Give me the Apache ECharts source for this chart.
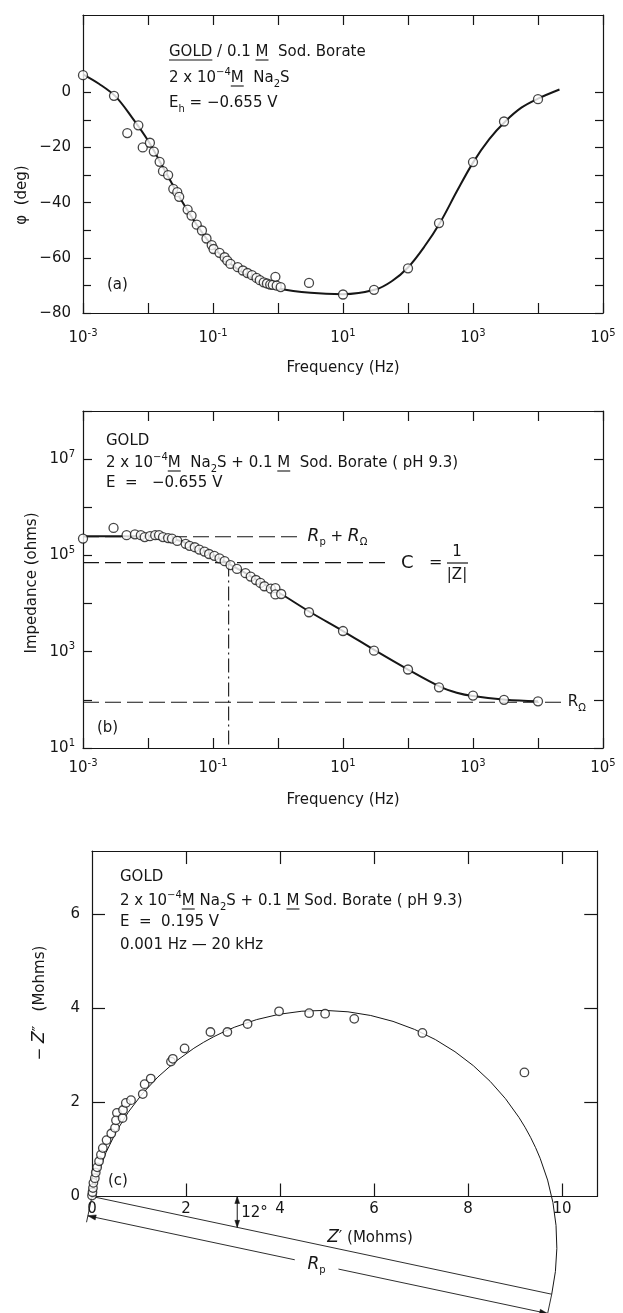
<!DOCTYPE html>
<html>
<head>
<meta charset="utf-8">
<script src="https://cdn.jsdelivr.net/npm/echarts@6/dist/echarts.min.js"></script>
<style>
  html, body { margin: 0; padding: 0; background: #ffffff; }
  #chart { width: 623px; height: 1313px; }
</style>
</head>
<body>
<div id="chart"></div>
<script>
// ---------- (a) phase angle vs frequency ----------
const phaseFreq = [0.001, 0.0030, 0.0048, 0.0071, 0.0083, 0.0107, 0.0123, 0.0151, 0.0170, 0.0204,
  0.0245, 0.0282, 0.0302, 0.0407, 0.0468, 0.0562, 0.0676, 0.0794, 0.0955, 0.102,
  0.126, 0.151, 0.166, 0.186, 0.240, 0.288, 0.339, 0.398, 0.468, 0.525,
  0.603, 0.676, 0.759, 0.832, 0.912, 0.955, 1.10, 3.0, 10, 30,
  100, 300, 1000, 3000, 10000];
const phaseDeg = [6.2, -1.3, -14.8, -12, -20, -18.3, -21.5, -25.2, -28.6, -30,
  -35, -36.2, -37.9, -42.5, -44.7, -48, -50.1, -53, -55.4, -56.8,
  -58.2, -59.8, -61, -62.2, -63.4, -64.6, -65.5, -66.3, -67.3, -68.1,
  -68.9, -69.3, -69.7, -69.8, -66.9, -70.1, -70.6, -69.1, -73.3, -71.6,
  -63.8, -47.4, -25.3, -10.6, -2.5];
const phaseFitFreq = [0.001, 0.00178, 0.00316, 0.00562, 0.01, 0.0178, 0.0316, 0.0562, 0.1, 0.178,
  0.316, 0.562, 1, 3.16, 10, 31.6, 56.2, 100, 178, 316,
  562, 1000, 1780, 3160, 5620, 10000, 21400];
const phaseFitDeg = [6.5, 3, -1.5, -9, -17.5, -28, -38.6, -48, -56, -61.8,
  -66, -69, -71, -72.7, -73.2, -71.5, -68.5, -63.5, -56, -47,
  -36, -25.5, -17, -10.5, -5.5, -2.3, 1];
const phaseTicks = [-80, -70, -60, -50, -40, -30, -20, -10, 0];
const phaseLabels = [-80, -60, -40, -20, 0];

// ---------- (b) impedance modulus vs frequency ----------
const impFreq = [0.001, 0.00295, 0.00468, 0.0063, 0.00776, 0.0089, 0.0107, 0.0129, 0.0148, 0.0170,
  0.0204, 0.0234, 0.0282, 0.038, 0.0437, 0.0525, 0.0617, 0.0741, 0.0871, 0.105,
  0.126, 0.151, 0.186, 0.234, 0.316, 0.38, 0.457, 0.537, 0.617, 0.776,
  0.912, 0.912, 1.12, 3, 10, 30, 100, 300, 1000, 3000, 10000];
const impOhms = [2.24e5, 3.72e5, 2.63e5, 2.75e5, 2.63e5, 2.40e5, 2.51e5, 2.63e5, 2.63e5, 2.40e5,
  2.29e5, 2.24e5, 2.0e5, 1.74e5, 1.58e5, 1.48e5, 1.32e5, 1.20e5, 1.07e5, 9.8e4,
  8.7e4, 7.6e4, 6.3e4, 5.25e4, 4.27e4, 3.63e4, 3.09e4, 2.69e4, 2.29e4, 2.04e4,
  2.09e4, 1.55e4, 1.58e4, 6600, 2690, 1050, 427, 182, 123, 100, 93];
const impFitFreq = [0.001, 0.00316, 0.01, 0.0178, 0.0316, 0.0562, 0.1, 0.178, 0.316, 0.562,
  1, 3.16, 10, 31.6, 100, 316, 562, 1000, 3160, 10000];
const impFitOhms = [2.51e5, 2.51e5, 2.51e5, 2.40e5, 2.0e5, 1.45e5, 1.02e5, 6.6e4, 4.27e4, 2.69e4,
  1.74e4, 6600, 2690, 1050, 427, 186, 141, 120, 100, 93];
// characteristic levels marked on the modulus plot
const rpPlusROmega = 2.45e5;   // low-frequency plateau
const capLevel = 7.1e4;        // |Z| used for C = 1/|Z|
const capFreq = 0.174;         // frequency where the curve meets that level
const rOmega = 89;             // high-frequency limit

// ---------- (c) complex-plane plot ----------
const zReal = [0.00, 0.01, 0.02, 0.03, 0.06, 0.08, 0.11, 0.15, 0.19, 0.23,
  0.31, 0.41, 0.49, 0.53, 0.51, 0.65, 0.66, 0.72, 0.83, 1.08,
  1.12, 1.25, 1.68, 1.72, 1.97, 2.52, 2.88, 3.31, 3.98, 4.62,
  4.96, 5.58, 7.03, 9.20];
const zImag = [0.02, 0.09, 0.18, 0.29, 0.39, 0.51, 0.62, 0.75, 0.89, 1.03,
  1.20, 1.34, 1.46, 1.78, 1.62, 1.67, 1.84, 1.99, 2.05, 2.18,
  2.39, 2.51, 2.87, 2.93, 3.15, 3.50, 3.50, 3.67, 3.94, 3.90,
  3.89, 3.78, 3.48, 2.64];
const rp = 10;            // Mohm, chord of the depressed semicircle
const depressionDeg = 12; // centre depression angle
const nyqTicks = [2, 4, 6, 8, 10];
const nyqXLabels = [0, 2, 4, 6, 8, 10];
const nyqYTicks = [2, 4, 6];
const nyqYLabels = [0, 2, 4, 6];

// ---------- styling ----------
const FONT = 'DejaVu Sans';
const INK = '#161616';
const zip = (a, b) => a.map((v, i) => [v, b[i]]);

const RICH = {
  t: { fontSize: 15, fontFamily: FONT, lineHeight: 22, color: INK, fill: INK },
  sup: { fontSize: 10, fontFamily: FONT, lineHeight: 12, verticalAlign: 'top', color: INK, fill: INK },
  sub: { fontSize: 10, fontFamily: FONT, lineHeight: 12, verticalAlign: 'bottom', color: INK, fill: INK },
  i: { fontSize: 17, fontFamily: FONT, fontStyle: 'italic', lineHeight: 22, color: INK, fill: INK },
  b: { fontSize: 15, fontFamily: FONT, lineHeight: 20, color: INK, fill: INK },
  s: { fontSize: 10, fontFamily: FONT, lineHeight: 10, verticalAlign: 'top', color: INK, fill: INK }
};

function powLabel(v) {
  const e = Math.round(Math.log10(v));
  if (Math.abs(e) % 2 !== 1) return '';
  return '{b|10}{s|' + e + '}';
}
const minusFmt = v => (v < 0 ? '\u2212' + Math.abs(v) : String(v));

const lineStyle = { color: INK, width: 1.2 };
function frame(o) {
  const tick = Object.assign({ show: true, inside: true, length: 10, lineStyle }, o.tick || {});
  const label = Object.assign({ show: false, color: INK, fontFamily: FONT, fontSize: 15, rich: RICH }, o.label || {});
  const ax = Object.assign({}, o);
  delete ax.tick; delete ax.label;
  return Object.assign({
    axisLine: { show: true, onZero: false, lineStyle },
    axisTick: tick,
    axisLabel: label,
    splitLine: { show: false },
    silent: true
  }, ax);
}

function text(x, y, str, extra, rotation) {
  return {
    type: 'text', x, y, silent: true, rotation: rotation || 0,
    style: Object.assign({
      text: str, rich: RICH, fill: INK, fontFamily: FONT, fontSize: 15,
      textAlign: 'left', align: 'left', textVerticalAlign: 'middle', verticalAlign: 'middle'
    }, extra || {})
  };
}
const centered = { align: 'center', textAlign: 'center' };

// underlines for the molarity "M" and the electrode name, placed by measuring the text run before them
const measureCtx = document.createElement('canvas').getContext('2d');
function runWidth(parts) {
  let w = 0;
  parts.forEach(([s, size]) => { measureCtx.font = size + 'px "' + FONT + '"'; w += measureCtx.measureText(s).width; });
  return w;
}
function underline(x0, yMid, before, word) {
  const a = x0 + runWidth(before);
  const b = a + runWidth([[word, 15]]);
  return { type: 'line', silent: true, shape: { x1: a, y1: yMid + 8, x2: b, y2: yMid + 8 }, style: { stroke: INK, lineWidth: 1.1 } };
}

const gridA = { left: 83, top: 15, width: 520, height: 298 };
const gridB = { left: 83, top: 411, width: 520, height: 337 };
const gridC = { left: 92, top: 851.05, width: 505.25, height: 345.45 };

const circle = { color: '#ffffff', borderColor: INK, borderWidth: 1.3 };

function arrowHead(tip, from, len, half) {
  const dx = tip[0] - from[0], dy = tip[1] - from[1];
  const L = Math.hypot(dx, dy) || 1;
  const ux = dx / L, uy = dy / L;
  const bx = tip[0] - ux * len, by = tip[1] - uy * len;
  return {
    type: 'polygon',
    shape: { points: [tip, [bx - uy * half, by + ux * half], [bx + uy * half, by - ux * half]] },
    style: { fill: INK, stroke: INK, lineWidth: 0.5 }
  };
}
function seg(p, q, w) {
  return { type: 'line', shape: { x1: p[0], y1: p[1], x2: q[0], y2: q[1] }, style: { stroke: INK, lineWidth: w || 1 } };
}

// depressed semicircle and its construction lines, built from rp and depressionDeg
function renderSemicircle(params, api) {
  const th = depressionDeg * Math.PI / 180;
  const P = (x, y) => api.coord([x, y]);
  const ux = Math.cos(th), uy = -Math.sin(th);      // along the chord
  const nx = -Math.sin(th), ny = -Math.cos(th);     // normal, below the chord
  const ex = rp * ux, ey = rp * uy;
  const o = P(0, 0), e = P(ex, ey);
  const cx = (o[0] + e[0]) / 2, cy = (o[1] + e[1]) / 2;
  const r = Math.hypot(e[0] - o[0], e[1] - o[1]) / 2;
  const a0 = Math.atan2(o[1] - cy, o[0] - cx);
  const a1 = Math.atan2(e[1] - cy, e[0] - cx);
  const off = 0.42, ext = 0.56;
  const A = P(nx * off, ny * off), B = P(ex + nx * off, ey + ny * off);
  const g1 = 4.5, g2 = 5.45;
  const G1 = P(g1 * ux + nx * off, g1 * uy + ny * off);
  const G2 = P(g2 * ux + nx * off, g2 * uy + ny * off);
  const gm = P(((g1 + g2) / 2) * ux + nx * off, ((g1 + g2) / 2) * uy + ny * off);
  const xs = 3.09;
  const T = P(xs, 0), U = P(xs, -xs * Math.tan(th));
  return {
    type: 'group',
    children: [
      { type: 'arc', shape: { cx, cy, r, startAngle: a0, endAngle: a1, clockwise: true },
        style: { stroke: INK, fill: null, lineWidth: 1 } },
      seg(o, e, 0.9),
      seg(o, P(nx * ext, ny * ext), 0.9),
      seg(e, P(ex + nx * ext, ey + ny * ext), 0.9),
      seg(A, G1, 0.9),
      seg(G2, B, 0.9),
      arrowHead(A, G1, 8, 2.6),
      arrowHead(B, G2, 8, 2.6),
      seg(T, U, 1),
      arrowHead(T, U, 7, 2.4),
      arrowHead(U, T, 7, 2.4),
      { type: 'text', x: U[0] + 4, y: (T[1] + U[1]) / 2 + 1,
        style: { text: '12\u00b0', fill: INK, fontFamily: FONT, fontSize: 15, align: 'left', verticalAlign: 'middle' } },
      { type: 'text', x: gm[0], y: gm[1],
        style: { text: '{i|R}{sub|p}', rich: RICH, fill: INK, fontFamily: FONT, fontSize: 15, align: 'center', verticalAlign: 'middle' } }
    ]
  };
}

const chart = echarts.init(document.getElementById('chart'), null, { renderer: 'canvas' });

chart.setOption({
  backgroundColor: '#ffffff',
  animation: false,
  textStyle: { fontFamily: FONT, color: INK },
  grid: [
    Object.assign({ containLabel: false }, gridA),
    Object.assign({ containLabel: false }, gridB),
    Object.assign({ containLabel: false }, gridC)
  ],
  xAxis: [
    frame({ gridIndex: 0, type: 'log', logBase: 10, min: 0.001, max: 1e5, position: 'bottom',
      label: { show: true, margin: 15, formatter: powLabel } }),
    frame({ gridIndex: 0, type: 'log', logBase: 10, min: 0.001, max: 1e5, position: 'top' }),
    frame({ gridIndex: 1, type: 'log', logBase: 10, min: 0.001, max: 1e5, position: 'bottom',
      label: { show: true, margin: 10, formatter: powLabel } }),
    frame({ gridIndex: 1, type: 'log', logBase: 10, min: 0.001, max: 1e5, position: 'top' }),
    frame({ gridIndex: 2, type: 'value', min: 0, max: 10.75, position: 'bottom',
      tick: { length: 13, customValues: nyqTicks },
      label: { show: true, margin: 5, customValues: nyqXLabels } }),
    frame({ gridIndex: 2, type: 'value', min: 0, max: 10.75, position: 'top',
      tick: { length: 13, customValues: nyqTicks } })
  ],
  yAxis: [
    frame({ gridIndex: 0, type: 'value', min: -80, max: 28, position: 'left',
      tick: { length: 8, customValues: phaseTicks },
      label: { show: true, margin: 12, customValues: phaseLabels, formatter: minusFmt } }),
    frame({ gridIndex: 0, type: 'value', min: -80, max: 28, position: 'right',
      tick: { length: 8, customValues: phaseTicks } }),
    frame({ gridIndex: 1, type: 'log', logBase: 10, min: 10, max: 1e8, position: 'left',
      tick: { length: 9 },
      label: { show: true, margin: 8, formatter: powLabel } }),
    frame({ gridIndex: 1, type: 'log', logBase: 10, min: 10, max: 1e8, position: 'right',
      tick: { length: 9 } }),
    frame({ gridIndex: 2, type: 'value', min: 0, max: 7.35, position: 'left',
      tick: { length: 13, customValues: nyqYTicks },
      label: { show: true, margin: 12, customValues: nyqYLabels } }),
    frame({ gridIndex: 2, type: 'value', min: 0, max: 7.35, position: 'right',
      tick: { length: 13, customValues: nyqYTicks } })
  ],
  series: [
    // (a)
    { type: 'line', xAxisIndex: 0, yAxisIndex: 0, data: zip(phaseFitFreq, phaseFitDeg),
      smooth: 0.35, symbol: 'none', silent: true, z: 2, lineStyle: { color: INK, width: 2 } },
    { type: 'scatter', xAxisIndex: 0, yAxisIndex: 0, data: zip(phaseFreq, phaseDeg),
      symbol: 'circle', symbolSize: 9, itemStyle: circle, silent: true, z: 3 },
    // (b) reference levels
    { type: 'line', xAxisIndex: 2, yAxisIndex: 2, data: [[0.001, rpPlusROmega], [2.0, rpPlusROmega]],
      symbol: 'none', silent: true, z: 1, lineStyle: { color: INK, width: 1.1, type: [16, 6] },
      endLabel: { show: true, distance: 10, formatter: '{i|R}{sub|p}{t| + }{i|R}{sub|\u03a9}', rich: RICH } },
    { type: 'line', xAxisIndex: 2, yAxisIndex: 2, data: [[0.001, capLevel], [50, capLevel]],
      symbol: 'none', silent: true, z: 1, lineStyle: { color: INK, width: 1.1, type: [16, 6] } },
    { type: 'line', xAxisIndex: 2, yAxisIndex: 2, data: [[capFreq, capLevel], [capFreq, 10]],
      symbol: 'none', silent: true, z: 1, lineStyle: { color: INK, width: 1.1, type: [14, 4, 2, 4] } },
    { type: 'line', xAxisIndex: 2, yAxisIndex: 2, data: [[0.001, rOmega], [2.5e4, rOmega]],
      symbol: 'none', silent: true, z: 1, lineStyle: { color: INK, width: 1.1, type: [16, 6] },
      endLabel: { show: true, distance: 4, formatter: '{t|R}{sub|\u03a9}', rich: RICH } },
    // (b) data
    { type: 'line', xAxisIndex: 2, yAxisIndex: 2, data: zip(impFitFreq, impFitOhms),
      smooth: 0.35, symbol: 'none', silent: true, z: 2, lineStyle: { color: INK, width: 2 } },
    { type: 'scatter', xAxisIndex: 2, yAxisIndex: 2, data: zip(impFreq, impOhms),
      symbol: 'circle', symbolSize: 9, itemStyle: circle, silent: true, z: 3 },
    // (c)
    { type: 'custom', xAxisIndex: 4, yAxisIndex: 4, data: [[0, 0]], clip: false, silent: true, z: 1,
      renderItem: renderSemicircle },
    { type: 'scatter', xAxisIndex: 4, yAxisIndex: 4, data: zip(zReal, zImag),
      symbol: 'circle', symbolSize: 8.5, itemStyle: circle, silent: true, z: 3 }
  ],
  graphic: [
    // (a) annotations
    text(169, 52, '{t|GOLD / 0.1 M  Sod. Borate}'),
    underline(169, 52, [], 'GOLD'),
    underline(169, 52, [['GOLD / 0.1 ', 15]], 'M'),
    text(169, 78, '{t|2 x 10}{sup|\u22124}{t|M  Na}{sub|2}{t|S}'),
    underline(169, 78, [['2 x 10', 15], ['\u22124', 10]], 'M'),
    text(169, 103, '{t|E}{sub|h}{t| = \u22120.655 V}'),
    text(107, 285, '{t|(a)}'),
    text(343, 368, '{t|Frequency (Hz)}', centered),
    text(22, 195, '{t|\u03c6  (deg)}', centered, Math.PI / 2),
    // (b) annotations
    text(106, 441, '{t|GOLD}'),
    text(106, 463, '{t|2 x 10}{sup|\u22124}{t|M  Na}{sub|2}{t|S + 0.1 M  Sod. Borate ( pH 9.3)}'),
    underline(106, 463, [['2 x 10', 15], ['\u22124', 10]], 'M'),
    underline(106, 463, [['2 x 10', 15], ['\u22124', 10], ['M  Na', 15], ['2', 10], ['S + 0.1 ', 15]], 'M'),
    text(106, 483, '{t|E  =   \u22120.655 V}'),
    text(97, 728, '{t|(b)}'),
    text(343, 800, '{t|Frequency (Hz)}', centered),
    text(32, 583, '{t|Impedance (ohms)}', centered, Math.PI / 2),
    text(401, 563, 'C', { fontSize: 18 }),
    text(429, 563, '=', { fontSize: 16 }),
    text(457, 552, '1', Object.assign({ fontSize: 15 }, centered)),
    { type: 'line', silent: true, shape: { x1: 447, y1: 563, x2: 468, y2: 563 }, style: { stroke: INK, lineWidth: 1.2 } },
    text(457, 575, '|Z|', Object.assign({ fontSize: 15 }, centered)),
    // (c) annotations
    text(120, 877, '{t|GOLD}'),
    text(120, 901, '{t|2 x 10}{sup|\u22124}{t|M Na}{sub|2}{t|S + 0.1 M Sod. Borate ( pH 9.3)}'),
    underline(120, 901, [['2 x 10', 15], ['\u22124', 10]], 'M'),
    underline(120, 901, [['2 x 10', 15], ['\u22124', 10], ['M Na', 15], ['2', 10], ['S + 0.1 ', 15]], 'M'),
    text(120, 922, '{t|E  =  0.195 V}'),
    text(120, 945, '{t|0.001 Hz \u2014 20 kHz}'),
    text(108, 1181, '{t|(c)}'),
    text(370, 1238, '{i|Z}{t|\u2032 (Mohms)}', centered),
    text(40, 1003, '{t|\u2212 }{i|Z}{t|\u2033   (Mohms)}', centered, Math.PI / 2)
  ]
});
</script>
</body>
</html>
